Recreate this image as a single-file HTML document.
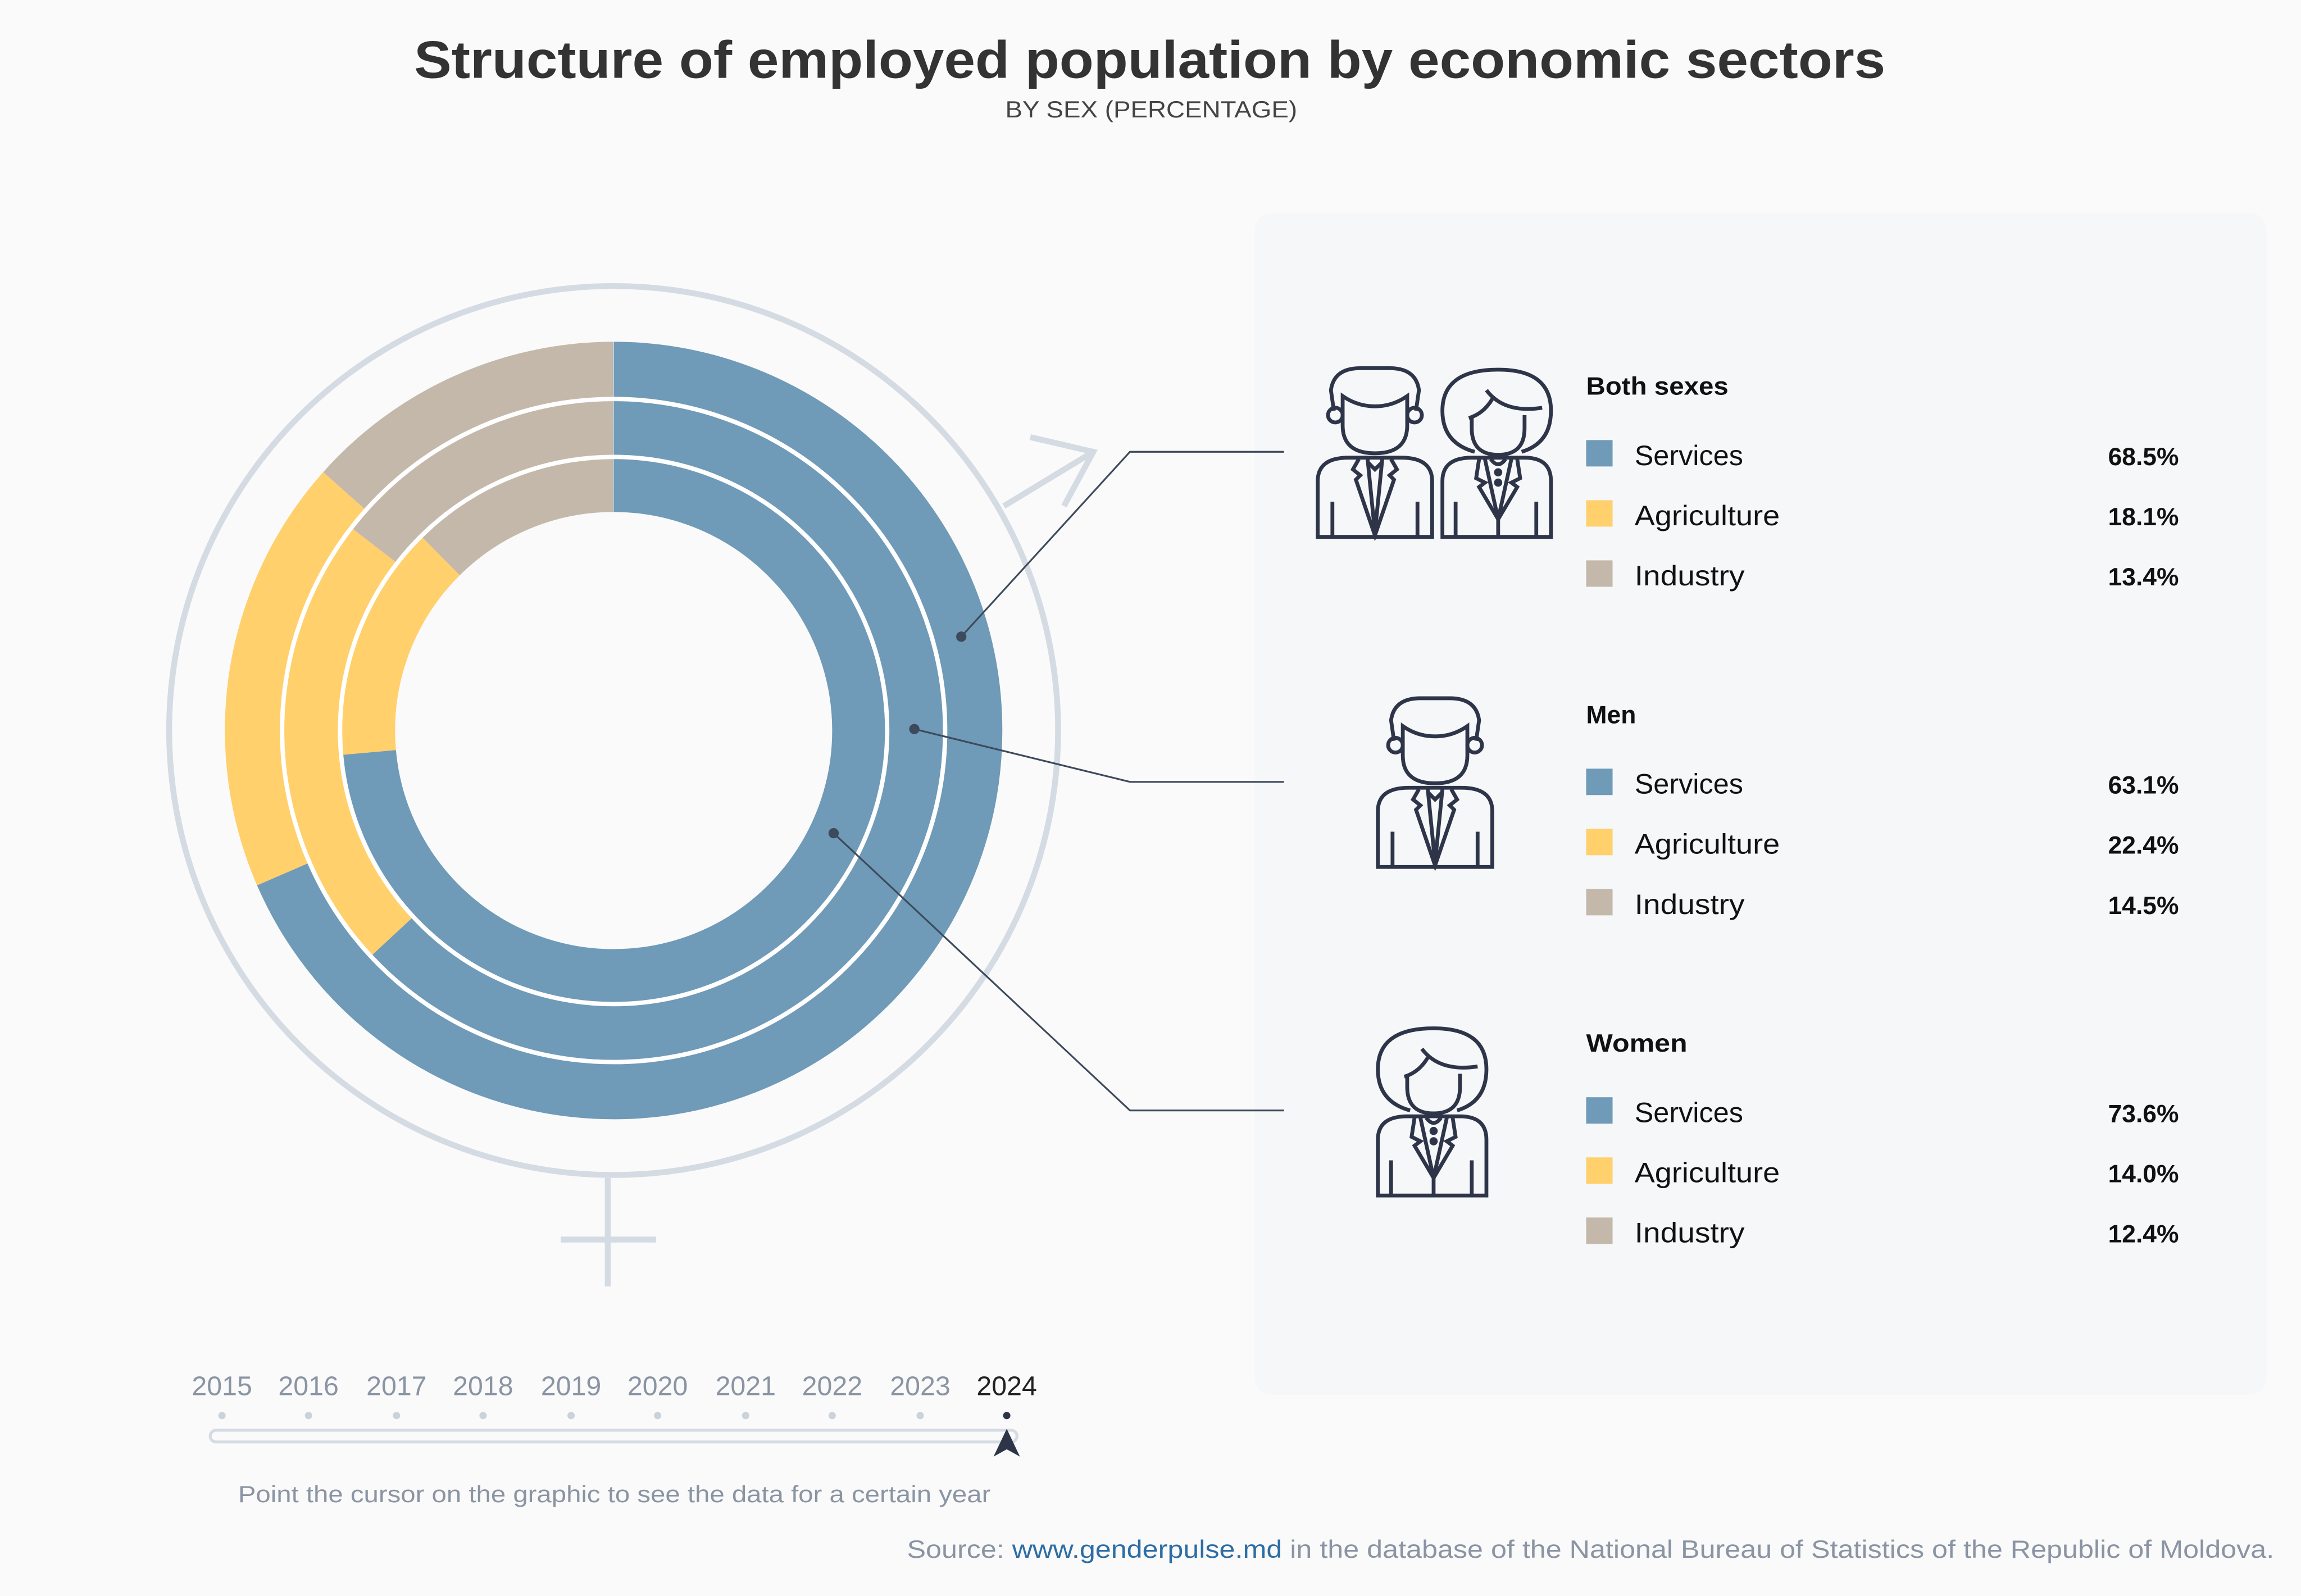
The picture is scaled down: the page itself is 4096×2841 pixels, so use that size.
<!DOCTYPE html>
<html><head><meta charset="utf-8"><style>
html,body{margin:0;padding:0;background:#fafafa}
svg{display:block}
text{font-family:"Liberation Sans","DejaVu Sans",sans-serif}
</style></head><body>
<svg width="4096" height="2841" viewBox="0 0 1568 1088" xmlns="http://www.w3.org/2000/svg">
<defs>
<g id="man" fill="none" stroke="#2f3549" stroke-width="2.6" stroke-linejoin="miter">
 <path d="M12,30 L10,16 Q12,1 30,1 L50,1 Q68,1 70,16 L68,30"/>
 <path d="M18,20 Q28,27 40,27 Q52,27 62,20 L62,40 Q62,59 40,59 Q18,59 18,40 Z"/>
 <circle cx="13" cy="33" r="5"/><circle cx="67" cy="33" r="5"/>
 <path d="M1,116 L1,78 Q1,62 22,62 L58,62 Q79,62 79,78 L79,116 Z"/>
 <path d="M11,92 L11,116 M69,92 L69,116"/>
 <path d="M29,63 L25,70 L30,74 L27,77 L40,115 L53,77 L50,74 L55,70 L51,63"/>
 <path d="M35,63 L40,113 L45,63 M35,65 L40,70 L45,65"/>
</g>
<g id="woman" fill="none" stroke="#2f3549" stroke-width="2.6">
 <path d="M24,58 Q2,52 2,30 Q2,2 40,2 Q76,2 76,30 Q76,52 56,58"/>
 <path d="M22,34 L22,42 Q22,60 40,60 Q58,60 58,42 L58,33"/>
 <path d="M20,35 Q30,32 36,22 M32,16 Q44,32 70,28"/>
 <path d="M2,116 L2,78 Q2,62 22,62 L58,62 Q76,62 76,78 L76,116 Z"/>
 <path d="M11,92 L11,116 M66,92 L66,116"/>
 <path d="M27,63 L25,76 L31,79 L27,82 L40,104 L53,82 L49,79 L55,76 L53,63 M31,63 L40,104 L49,63 M40,104 L40,116"/>
 <path d="M35,63 Q40,70 45,63"/>
 <circle cx="40" cy="72" r="1.5" fill="#2f3549"/><circle cx="40" cy="79" r="1.5" fill="#2f3549"/>
</g>
</defs>
<rect width="1568" height="1088" fill="#fafafa"/>
<text x="282" y="53" font-size="36" font-weight="bold" fill="#333" textLength="1003" lengthAdjust="spacingAndGlyphs">Structure of employed population by economic sectors</text>
<text x="685" y="80" font-size="16" fill="#444" textLength="199" lengthAdjust="spacingAndGlyphs">BY SEX (PERCENTAGE)</text>

<g fill="none" stroke="#d5dbe3" stroke-width="4">
<circle cx="418" cy="498" r="303"/>
<path d="M684,345 L745,308 M702,298 L745,308 L725,345"/>
<path d="M414,803 L414,877 M382,845 L447,845"/>
</g>

<g fill="none" transform="rotate(-90 418 498)">
 <circle cx="418" cy="498" r="246" stroke-width="38" stroke="#6f9ab8" pathLength="100" stroke-dasharray="68.5 200"/>
 <circle cx="418" cy="498" r="246" stroke-width="38" stroke="#ffd06b" pathLength="100" stroke-dasharray="18.1 200" stroke-dashoffset="-68.5"/>
 <circle cx="418" cy="498" r="246" stroke-width="38" stroke="#c4b8aa" pathLength="100" stroke-dasharray="13.4 200" stroke-dashoffset="-86.6"/>
 <circle cx="418" cy="498" r="206" stroke-width="40" stroke="#6f9ab8" pathLength="100" stroke-dasharray="63.1 200"/>
 <circle cx="418" cy="498" r="206" stroke-width="40" stroke="#ffd06b" pathLength="100" stroke-dasharray="22.4 200" stroke-dashoffset="-63.1"/>
 <circle cx="418" cy="498" r="206" stroke-width="40" stroke="#c4b8aa" pathLength="100" stroke-dasharray="14.5 200" stroke-dashoffset="-85.5"/>
 <circle cx="418" cy="498" r="167.5" stroke-width="37" stroke="#6f9ab8" pathLength="100" stroke-dasharray="73.6 200"/>
 <circle cx="418" cy="498" r="167.5" stroke-width="37" stroke="#ffd06b" pathLength="100" stroke-dasharray="14.0 200" stroke-dashoffset="-73.6"/>
 <circle cx="418" cy="498" r="167.5" stroke-width="37" stroke="#c4b8aa" pathLength="100" stroke-dasharray="12.4 200" stroke-dashoffset="-87.6"/>
 <circle cx="418" cy="498" r="226" stroke-width="3" stroke="#fff"/>
 <circle cx="418" cy="498" r="186.5" stroke-width="3" stroke="#fff"/>
</g>

<rect x="855" y="145" width="690" height="806" rx="12" fill="#f6f7f9"/>

<g fill="none" stroke="#3d4a5c" stroke-width="1.2">
<path d="M655,434 L770,308 L875,308"/>
<path d="M623,497 L770,533 L875,533"/>
<path d="M568,568 L770,757 L875,757"/>
</g>
<g fill="#3d4a5c"><circle cx="655" cy="434" r="3.5"/><circle cx="623" cy="497" r="3.5"/><circle cx="568" cy="568" r="3.5"/></g>

<use href="#man" x="897" y="250"/>
<use href="#woman" x="981" y="250"/>
<use href="#man" x="938" y="475"/>
<use href="#woman" x="937" y="699"/>

<g font-size="19" fill="#111">
<text x="1081" y="269" font-weight="bold" font-size="17" textLength="97" lengthAdjust="spacingAndGlyphs">Both sexes</text>
<rect x="1081" y="300" width="18" height="18" fill="#6f9ab8"/><text x="1114" y="317" textLength="74" lengthAdjust="spacingAndGlyphs">Services</text><text x="1485" y="317" text-anchor="end" font-weight="bold" font-size="17">68.5%</text>
<rect x="1081" y="341" width="18" height="18" fill="#ffd06b"/><text x="1114" y="358" textLength="99" lengthAdjust="spacingAndGlyphs">Agriculture</text><text x="1485" y="358" text-anchor="end" font-weight="bold" font-size="17">18.1%</text>
<rect x="1081" y="382" width="18" height="18" fill="#c4b8aa"/><text x="1114" y="399" textLength="75" lengthAdjust="spacingAndGlyphs">Industry</text><text x="1485" y="399" text-anchor="end" font-weight="bold" font-size="17">13.4%</text>

<text x="1081" y="493" font-weight="bold" font-size="17" textLength="34" lengthAdjust="spacingAndGlyphs">Men</text>
<rect x="1081" y="524" width="18" height="18" fill="#6f9ab8"/><text x="1114" y="541" textLength="74" lengthAdjust="spacingAndGlyphs">Services</text><text x="1485" y="541" text-anchor="end" font-weight="bold" font-size="17">63.1%</text>
<rect x="1081" y="565" width="18" height="18" fill="#ffd06b"/><text x="1114" y="582" textLength="99" lengthAdjust="spacingAndGlyphs">Agriculture</text><text x="1485" y="582" text-anchor="end" font-weight="bold" font-size="17">22.4%</text>
<rect x="1081" y="606" width="18" height="18" fill="#c4b8aa"/><text x="1114" y="623" textLength="75" lengthAdjust="spacingAndGlyphs">Industry</text><text x="1485" y="623" text-anchor="end" font-weight="bold" font-size="17">14.5%</text>

<text x="1081" y="717" font-weight="bold" font-size="17" textLength="69" lengthAdjust="spacingAndGlyphs">Women</text>
<rect x="1081" y="748" width="18" height="18" fill="#6f9ab8"/><text x="1114" y="765" textLength="74" lengthAdjust="spacingAndGlyphs">Services</text><text x="1485" y="765" text-anchor="end" font-weight="bold" font-size="17">73.6%</text>
<rect x="1081" y="789" width="18" height="18" fill="#ffd06b"/><text x="1114" y="806" textLength="99" lengthAdjust="spacingAndGlyphs">Agriculture</text><text x="1485" y="806" text-anchor="end" font-weight="bold" font-size="17">14.0%</text>
<rect x="1081" y="830" width="18" height="18" fill="#c4b8aa"/><text x="1114" y="847" textLength="75" lengthAdjust="spacingAndGlyphs">Industry</text><text x="1485" y="847" text-anchor="end" font-weight="bold" font-size="17">12.4%</text>
</g>

<g font-size="18.5" fill="#8a94a3" text-anchor="middle">
<text x="151" y="951">2015</text><text x="210" y="951">2016</text><text x="270" y="951">2017</text><text x="329" y="951">2018</text><text x="389" y="951">2019</text><text x="448" y="951">2020</text><text x="508" y="951">2021</text><text x="567" y="951">2022</text><text x="627" y="951">2023</text><text x="686" y="951" fill="#222">2024</text>
</g>
<g fill="#ccd2da"><circle cx="151" cy="965" r="2.5"/><circle cx="210" cy="965" r="2.5"/><circle cx="270" cy="965" r="2.5"/><circle cx="329" cy="965" r="2.5"/><circle cx="389" cy="965" r="2.5"/><circle cx="448" cy="965" r="2.5"/><circle cx="508" cy="965" r="2.5"/><circle cx="567" cy="965" r="2.5"/><circle cx="627" cy="965" r="2.5"/><circle cx="686" cy="965" r="2.5" fill="#2f3549"/></g>
<rect x="143" y="975" width="550" height="8" rx="4" fill="none" stroke="#d5dbe3" stroke-width="2"/>
<path d="M686,974 L695,993 L686,988 L677,993 Z" fill="#2f3549"/>
<text x="162" y="1024" font-size="16" fill="#8a94a3" textLength="513" lengthAdjust="spacingAndGlyphs">Point the cursor on the graphic to see the data for a certain year</text>
<text x="618" y="1062" font-size="17" fill="#8a94a3" textLength="932" lengthAdjust="spacingAndGlyphs">Source: <tspan fill="#2e6da4">www.genderpulse.md</tspan> in the database of the National Bureau of Statistics of the Republic of Moldova.</text>
</svg>
</body></html>
